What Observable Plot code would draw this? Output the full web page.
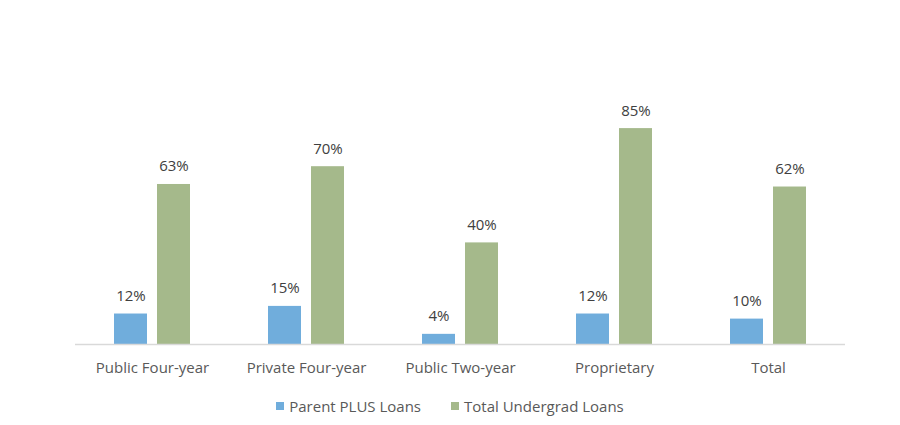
<!DOCTYPE html>
<html>
<head>
<meta charset="utf-8">
<script src="https://cdn.jsdelivr.net/npm/d3@7"></script>
<script src="https://cdn.jsdelivr.net/npm/@observablehq/plot@0.6"></script>
<style>
  html, body { margin: 0; padding: 0; background: #fff; }
  #chart { width: 900px; height: 425px; position: relative; font-family: "Open Sans", sans-serif; }
  #legend { position: absolute; left: 0; top: 396px; width: 900px; display: flex; justify-content: center; gap: 30px; font-size: 15px; color: #595959; }
  .item { display: flex; align-items: center; }
  .sw { width: 8px; height: 8px; margin-right: 5px; display: inline-block; }
</style>
</head>
<body>
<div id="chart"></div>
<script>
const categories = ["Public Four-year", "Private Four-year", "Public Two-year", "Proprietary", "Total"];
const seriesNames = ["Parent PLUS Loans", "Total Undergrad Loans"];
const parentPlus = [12, 15, 4, 12, 10];
const totalUndergrad = [63, 70, 40, 85, 62];
const colors = ["#70ADDC", "#A5B98B"];

const data = [];
categories.forEach((c, i) => {
  data.push({category: c, series: seriesNames[0], value: parentPlus[i]});
  data.push({category: c, series: seriesNames[1], value: totalUndergrad[i]});
});

const plot = Plot.plot({
  width: 900,
  height: 385,
  marginLeft: 74,
  marginRight: 55,
  marginTop: 90,
  marginBottom: 41,
  style: {fontFamily: "'Open Sans', sans-serif", background: "#fff"},
  fx: {domain: categories, padding: 0, label: null, axis: null},
  x: {domain: seriesNames, paddingInner: 0.227, paddingOuter: 0.864, axis: null},
  y: {domain: [0, 100], axis: null},
  color: {domain: seriesNames, range: colors},
  marks: [
    Plot.barY(data, {fx: "category", x: "series", y: "value", fill: "series"}),
    Plot.ruleY([0], {stroke: "#d9d9d9", strokeWidth: 1.6}),
    Plot.text(data, {fx: "category", x: "series", y: "value", text: d => d.value + "%", dy: -13, lineAnchor: "bottom", fill: "#404040", fontSize: 15}),
    Plot.axisFx({anchor: "bottom", tickSize: 0, tickPadding: 18, label: null, fontSize: 15, color: "#595959"})
  ]
});
document.getElementById("chart").appendChild(plot);

const legend = document.createElement("div");
legend.id = "legend";
seriesNames.forEach((s, i) => {
  const item = document.createElement("span");
  item.className = "item";
  const sw = document.createElement("span");
  sw.className = "sw";
  sw.style.background = colors[i];
  item.appendChild(sw);
  item.appendChild(document.createTextNode(s));
  legend.appendChild(item);
});
document.getElementById("chart").appendChild(legend);
</script>
</body>
</html>
